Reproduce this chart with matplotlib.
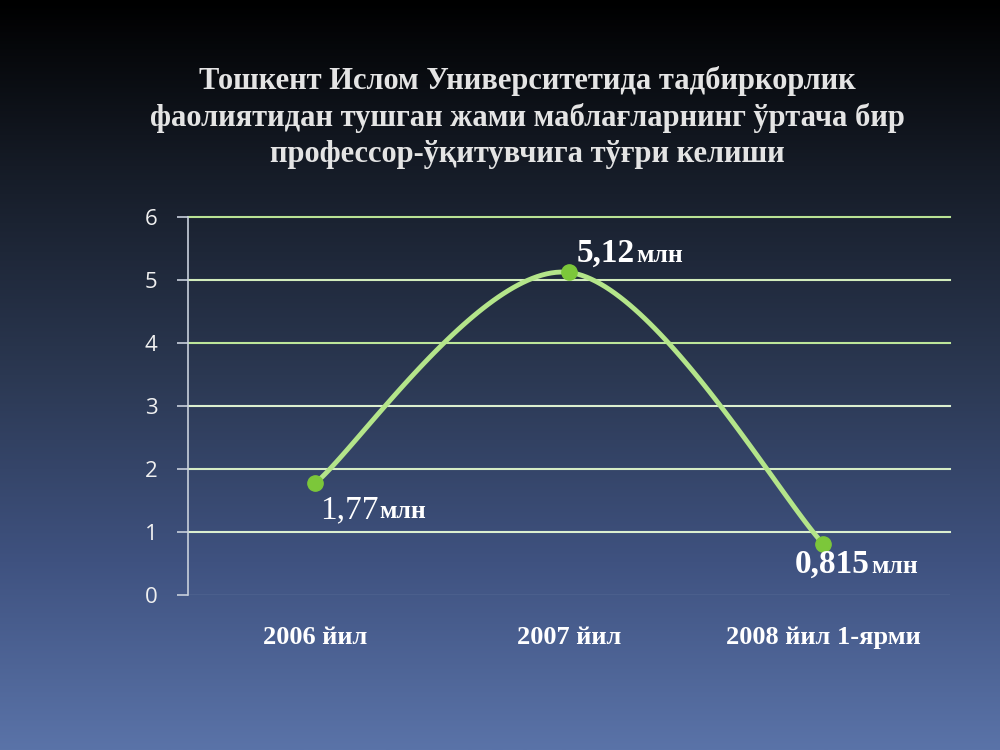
import numpy as np
import matplotlib
matplotlib.use("Agg")
import matplotlib.pyplot as plt
from matplotlib.colors import LinearSegmentedColormap

# ---- Data
categories = ["2006 йил", "2007 йил", "2008 йил 1-ярми"]
values = [1.77, 5.12, 0.815]
value_labels = ["1,77", "5,12", "0,815"]
unit = "млн"
yticks = [0, 1, 2, 3, 4, 5, 6]
title = ("Тошкент Ислом Университетида тадбиркорлик\n"
         "фаолиятидан тушган жами маблағларнинг ўртача бир\n"
         "профессор-ўқитувчига тўғри келиши")


def smooth_curve(xs, ys, n=60):
    """Catmull-Rom style bezier through the points (like a smoothed line)."""
    pts = np.column_stack([xs, ys]).astype(float)
    ext = np.vstack([pts[0], pts, pts[-1]])
    out = []
    for i in range(len(pts) - 1):
        p0, p1, p2, p3 = ext[i], ext[i + 1], ext[i + 2], ext[i + 3]
        c1 = p1 + (p2 - p0) / 6
        c2 = p2 - (p3 - p1) / 6
        t = np.linspace(0, 1, n)[:, None]
        seg = ((1 - t) ** 3) * p1 + 3 * ((1 - t) ** 2) * t * c1 \
            + 3 * (1 - t) * t ** 2 * c2 + t ** 3 * p2
        out.append(seg if i == 0 else seg[1:])
    seg = np.vstack(out)
    return seg[:, 0], seg[:, 1]


fig = plt.figure(figsize=(10, 7.5), dpi=100)

# ---- Background gradient
bg = fig.add_axes([0, 0, 1, 1], zorder=-10)
bg_cmap = LinearSegmentedColormap.from_list(
    "bg", [(0.0, "#000000"), (0.22, "#151b26"), (0.5, "#2b3852"),
           (0.75, "#3f5280"), (1.0, "#5a73a8")])
grad = np.linspace(0, 1, 256)[:, None]
bg.imshow(grad, aspect="auto", cmap=bg_cmap, extent=[0, 1, 0, 1], origin="upper")
bg.axis("off")

# ---- Plot area
ax = fig.add_axes([0.188, 0.2067, 0.762, 0.504])
ax.set_facecolor("none")
x = np.arange(len(categories))
ax.set_xlim(-0.5, 2.5)
ax.set_ylim(0, 6)

grid_colors = {1: "#dcefd0", 2: "#d6ecc6", 3: "#dcefd0", 4: "#bde69a",
               5: "#d2ecbc", 6: "#b9e394"}
for v in yticks[1:]:
    ax.axhline(v, color=grid_colors[v], lw=1.5, zorder=1, clip_on=False)
ax.axhline(0, color="#6d84a8", lw=1.0, zorder=1)

cx, cy = smooth_curve(x, values)
ax.plot(cx, cy, color="#b4e58a", lw=3.5, solid_capstyle="round", zorder=3)
ax.plot(x, values, "o", color="#7cc73a", ms=11, zorder=4)

for s in ["top", "right", "bottom"]:
    ax.spines[s].set_visible(False)
ax.spines["left"].set_color("#c8d0dc")
ax.spines["left"].set_linewidth(1.2)

ax.set_yticks(yticks)
ax.tick_params(axis="y", colors="#c8d0dc", length=8, width=1.2, direction="out",
               labelsize=16, labelcolor="#f0f0f0", pad=14)
for lab in ax.get_yticklabels():
    lab.set_fontfamily("Open Sans")

ax.set_xticks(x)
ax.set_xticklabels(categories, fontfamily="Liberation Serif", fontweight="bold",
                   fontsize=19, color="white")
ax.tick_params(axis="x", length=0, pad=22)

# ---- Title
fig.text(0.527, 0.843, title, ha="center", va="center", fontsize=22,
         fontfamily="Liberation Serif", fontweight="bold", color="#e4e4e4",
         linespacing=1.3)

# ---- Data labels (value big, unit smaller)
label_pos = [(320, 518), (577, 262), (795, 573)]  # pixel anchor near point (baseline)
label_weight = ["normal", "bold", "bold"]
fig.canvas.draw()
renderer = fig.canvas.get_renderer()
for i, (val_txt, (px, py)) in enumerate(zip(value_labels, label_pos)):
    t1 = fig.text(px / 1000, 1 - py / 750, val_txt, ha="left", va="baseline",
                  fontsize=24, fontfamily="Liberation Serif",
                  fontweight=label_weight[i], color="white")
    bb = t1.get_window_extent(renderer)
    fig.text(bb.x1 / 1000 + 0.001, 1 - py / 750, unit, ha="left", va="baseline",
             fontsize=18.5, fontfamily="Liberation Serif", fontweight="bold",
             color="white")

fig.savefig("out.png", dpi=100)
